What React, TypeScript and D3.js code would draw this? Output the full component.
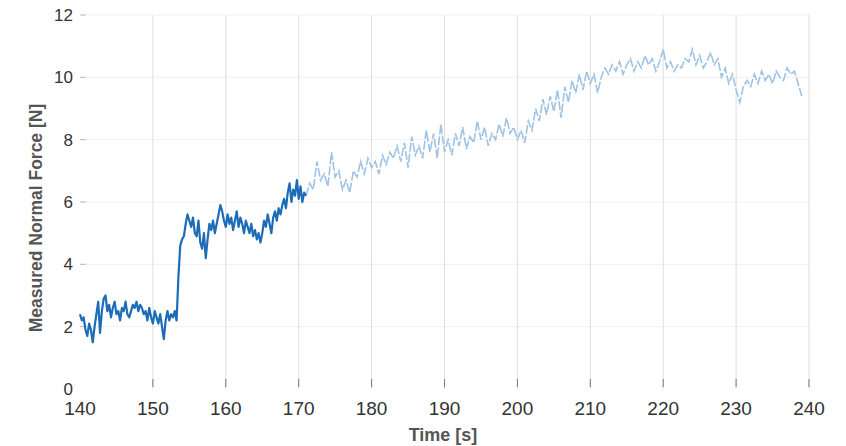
import React, { useEffect, useRef } from 'react'
import * as d3 from 'd3'

const darkStart = 140
const darkStep = 0.25
const darkValues = [
  2.4, 2.2, 2.3, 1.9, 1.7, 2.1, 1.9, 1.5, 2.0, 2.4, 2.8, 1.8, 2.5, 2.9, 3.0, 2.5,
  2.7, 2.3, 2.6, 2.8, 2.4, 2.5, 2.2, 2.6, 2.5, 2.8, 2.4, 2.3, 2.5, 2.7, 2.6, 2.8,
  2.5, 2.7, 2.6, 2.4, 2.5, 2.2, 2.6, 2.3, 2.1, 2.5, 2.3, 2.1, 2.4, 2.0, 1.6, 2.2,
  2.5, 2.2, 2.4, 2.3, 2.5, 2.2, 3.6, 4.6, 4.8, 4.9, 5.3, 5.6, 5.4, 5.2, 5.5, 5.0,
  4.9, 5.4, 4.7, 4.5, 5.0, 4.2, 4.8, 5.3, 5.1, 5.4, 5.0, 5.3, 5.6, 5.9, 5.7, 5.4,
  5.2, 5.6, 5.3, 5.5, 5.1, 5.4, 5.7, 5.2, 5.5, 5.3, 5.0, 5.4, 5.2, 5.0, 5.3, 4.9,
  5.1, 4.8, 5.0, 4.7, 5.0, 5.4, 5.2, 5.6, 5.3, 5.0, 5.5, 5.7, 5.4, 5.8, 5.6, 5.9,
  6.1, 5.8, 6.3, 6.6, 6.0, 6.4, 6.2, 6.7, 6.1, 6.5, 6.0, 6.3, 6.2
]

const lightStart = 171
const lightStep = 0.5
const lightValues = [
  6.2, 6.6, 6.4, 7.3, 6.7, 6.9, 6.5, 7.6, 6.8, 7.0, 6.4, 6.7, 6.3, 7.0, 6.8, 7.3,
  6.9, 7.4, 7.1, 7.3, 6.9, 7.5, 7.2, 7.6, 7.4, 7.8, 7.3, 7.9, 7.1, 8.1, 7.5, 7.8,
  7.4, 8.3, 7.6, 8.2, 7.4, 8.5, 7.6, 8.0, 7.5, 8.2, 7.8, 8.4, 7.7, 8.1, 7.9, 8.6,
  8.0, 8.4, 7.8, 8.2, 8.0, 8.5, 8.1, 8.7, 8.2, 8.4, 8.0, 8.3, 7.9, 8.6, 8.3, 9.0,
  8.6, 9.3, 8.8, 9.4, 8.9, 9.6, 8.7, 9.7, 9.2, 9.9, 9.5, 10.1, 9.6, 10.2, 9.8, 10.1,
  9.5, 10.0, 10.3, 10.1, 10.4, 10.2, 10.5, 10.1, 10.4, 10.6, 10.2, 10.5, 10.3, 10.7, 10.4, 10.6,
  10.2, 10.5, 10.9, 10.3, 10.5, 10.2, 10.4, 10.3, 10.6, 10.5, 10.9, 10.4, 10.7, 10.3, 10.5, 10.8,
  10.4, 10.6, 10.0, 10.3, 9.8, 10.1, 9.6, 9.2, 9.7, 9.9, 9.7, 10.1, 9.8, 10.2, 9.9, 10.1,
  9.8, 10.2, 10.0, 9.9, 10.3, 10.1, 10.2, 9.8, 9.4
]

const xTicks = [140, 150, 160, 170, 180, 190, 200, 210, 220, 230, 240]
const yTicks = [0, 2, 4, 6, 8, 10, 12]

function App() {
  const ref = useRef<SVGSVGElement>(null)

  useEffect(() => {
    const svg = d3.select(ref.current)
    svg.selectAll('*').remove()

    const x = d3.scaleLinear().domain([140, 240]).range([80, 809])
    const y = d3.scaleLinear().domain([0, 12]).range([389, 15])

    const font = 'Liberation Sans, Arial, sans-serif'

    // grid
    svg.append('g')
      .selectAll('line')
      .data(yTicks.filter(d => d > 0))
      .join('line')
      .attr('x1', x(140)).attr('x2', x(240))
      .attr('y1', d => y(d)).attr('y2', d => y(d))
      .attr('stroke', '#f1f1f1')
      .attr('stroke-width', 1)

    svg.append('g')
      .selectAll('line')
      .data(xTicks.filter(d => d > 140))
      .join('line')
      .attr('x1', d => x(d)).attr('x2', d => x(d))
      .attr('y1', y(12)).attr('y2', y(0))
      .attr('stroke', '#dedede')
      .attr('stroke-width', 1)

    // tick marks
    svg.append('g')
      .selectAll('line')
      .data(xTicks.filter(d => d > 140))
      .join('line')
      .attr('x1', d => x(d)).attr('x2', d => x(d))
      .attr('y1', y(0) - 10).attr('y2', y(0) - 2)
      .attr('stroke', '#777')

    svg.append('g')
      .selectAll('line')
      .data(yTicks.filter(d => d > 0))
      .join('line')
      .attr('x1', x(140)).attr('x2', x(140) + 6)
      .attr('y1', d => y(d)).attr('y2', d => y(d))
      .attr('stroke', '#bbb')

    // tick labels
    svg.append('g')
      .selectAll('text')
      .data(yTicks)
      .join('text')
      .attr('x', 73)
      .attr('y', d => y(d))
      .attr('dy', '0.35em')
      .attr('text-anchor', 'end')
      .attr('font-family', font)
      .attr('font-size', 17)
      .attr('fill', '#333')
      .text(d => d)

    svg.append('g')
      .selectAll('text')
      .data(xTicks)
      .join('text')
      .attr('x', d => x(d))
      .attr('y', 415)
      .attr('text-anchor', 'middle')
      .attr('font-family', font)
      .attr('font-size', 19)
      .attr('fill', '#333')
      .text(d => d)

    // axis titles
    svg.append('text')
      .attr('transform', `translate(42,${218}) rotate(-90)`)
      .attr('text-anchor', 'middle')
      .attr('font-family', font)
      .attr('font-size', 17.5)
      .attr('font-weight', 'bold')
      .attr('fill', '#555')
      .text('Measured Normal Force [N]')

    svg.append('text')
      .attr('x', 443)
      .attr('y', 441)
      .attr('text-anchor', 'middle')
      .attr('font-family', font)
      .attr('font-size', 18)
      .attr('font-weight', 'bold')
      .attr('fill', '#555')
      .text('Time [s]')

    const line = d3.line<[number, number]>()
      .x(d => x(d[0]))
      .y(d => y(d[1]))

    const lightPts: [number, number][] = lightValues.map((v, i) => [lightStart + i * lightStep, v])
    const darkPts: [number, number][] = darkValues.map((v, i) => [darkStart + i * darkStep, v])

    svg.append('path')
      .datum(lightPts)
      .attr('d', line)
      .attr('fill', 'none')
      .attr('stroke', '#9fc3e4')
      .attr('stroke-width', 1.6)
      .attr('stroke-dasharray', '9,2')

    svg.append('path')
      .datum(darkPts)
      .attr('d', line)
      .attr('fill', 'none')
      .attr('stroke', '#1d6cb8')
      .attr('stroke-width', 2.2)
      .attr('stroke-linejoin', 'round')
  }, [])

  return (
    <svg ref={ref} width={830} height={446} style={{ display: 'block', position: 'absolute', left: 0, top: 0 }} />
  )
}

export default App
